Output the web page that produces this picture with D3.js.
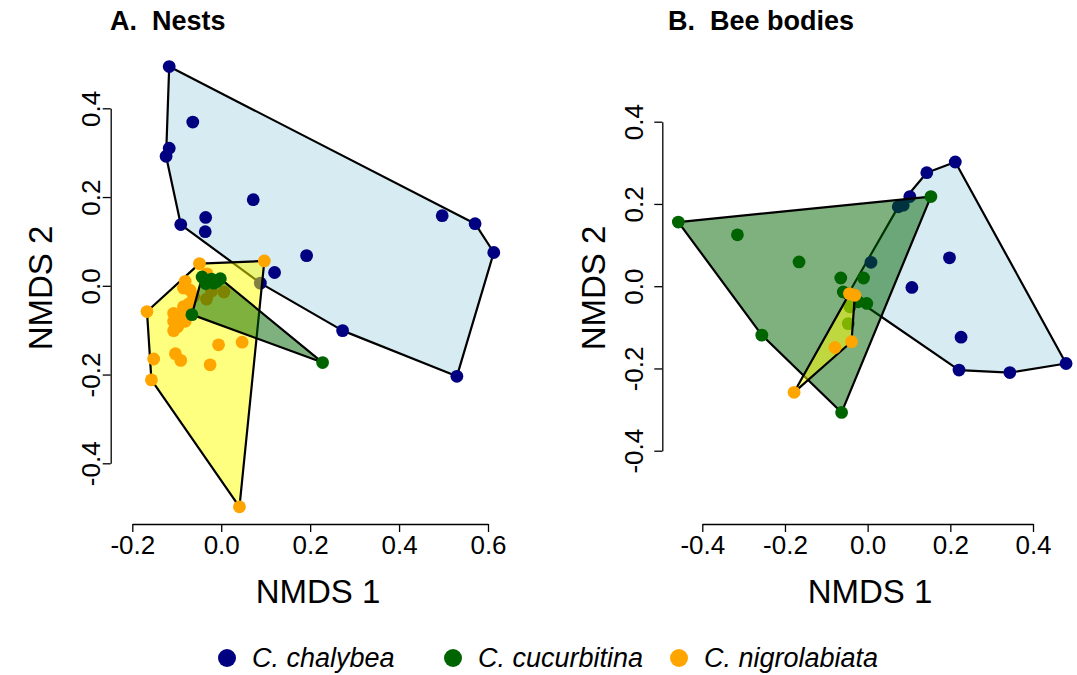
<!DOCTYPE html>
<html>
<head>
  <meta charset="utf-8">
  <script src="https://d3js.org/d3.v7.min.js"></script>
  <style>
    body { margin: 0; background: #fff; }
    text { font-family: "Liberation Sans", Arial, Helvetica, sans-serif; fill: #000; }
    .axis path, .axis line { stroke: #000; stroke-width: 1.3; }
    .hull { stroke: #000; stroke-width: 2.2; stroke-linejoin: round; }
  </style>
</head>
<body>
  <svg id="canvas" width="1077" height="675"></svg>
<script>
  // species and colours
  const species = ["C. chalybea", "C. cucurbitina", "C. nigrolabiata"];
  const pointColors = ["#000080", "#006400", "#FFA500"];
  const hullColors = ["rgba(173,216,230,0.5)", "rgba(0,100,0,0.5)", "rgba(255,255,0,0.5)"];

  const ticksA_x = [-0.2, 0.0, 0.2, 0.4, 0.6];
  const ticksA_y = [-0.4, -0.2, 0.0, 0.2, 0.4];
  const ticksB_x = [-0.4, -0.2, 0.0, 0.2, 0.4];
  const ticksB_y = [-0.4, -0.2, 0.0, 0.2, 0.4];

  // A. Nests  (NMDS1, NMDS2)
  const nestsChalybea = [
    [-0.117, 0.494], [-0.064, 0.369], [-0.117, 0.310], [-0.124, 0.292],
    [-0.091, 0.138], [-0.035, 0.154], [-0.036, 0.122], [0.072, 0.194],
    [0.192, 0.068], [0.120, 0.030], [0.088, 0.006], [0.273, -0.101],
    [0.497, 0.158], [0.571, 0.140], [0.613, 0.075], [0.530, -0.204]
  ];
  const nestsCucurbitina = [
    [0.228, -0.173], [-0.066, -0.065], [-0.043, 0.020], [-0.029, 0.012],
    [-0.017, 0.006], [-0.002, 0.016], [-0.035, 0.005], [-0.022, 0.015],
    [-0.010, 0.010]
  ];
  const nestsNigrolabiata = [
    [0.097, 0.056], [-0.049, 0.050], [-0.167, -0.058], [-0.157, -0.212],
    [-0.152, -0.165], [-0.081, 0.010], [-0.085, -0.005], [-0.070, -0.010],
    [-0.062, -0.024], [-0.085, -0.047], [-0.072, -0.040], [-0.107, -0.062],
    [-0.107, -0.080], [-0.092, -0.070], [-0.081, -0.080], [-0.107, -0.101],
    [-0.098, -0.092], [-0.006, -0.133], [0.047, -0.127], [-0.103, -0.153],
    [-0.091, -0.168], [-0.025, -0.178], [0.041, -0.498], [-0.032, 0.027],
    [-0.033, -0.030], [0.006, -0.014], [-0.022, -0.012]
  ];

  // B. Bee bodies
  const bodiesChalybea = [
    [0.212, 0.302], [0.143, 0.276], [0.102, 0.218], [0.074, 0.193],
    [0.086, 0.197], [0.008, 0.058], [0.198, 0.069], [0.107, -0.003],
    [0.226, -0.124], [0.221, -0.204], [0.344, -0.210], [0.480, -0.188],
    [-0.047, -0.019]
  ];
  const bodiesCucurbitina = [
    [-0.458, 0.156], [-0.315, 0.125], [-0.166, 0.059], [-0.256, -0.119],
    [-0.063, -0.307], [0.153, 0.218], [-0.065, 0.020], [-0.010, 0.020],
    [-0.059, -0.014], [-0.002, -0.042], [-0.023, -0.038], [-0.043, -0.050],
    [-0.047, -0.091]
  ];
  const bodiesNigrolabiata = [
    [-0.178, -0.258], [-0.079, -0.149], [-0.039, -0.135],
    [-0.044, -0.018], [-0.031, -0.022]
  ];

  const svg = d3.select("#canvas");

  const panels = [
    {
      title: "A.  Nests", titleX: 110,
      x: d3.scaleLinear().domain([-0.2, 0.6]).range([132.3, 488]),
      y: d3.scaleLinear().domain([-0.4, 0.4]).range([463.3, 108.3]),
      xTicks: ticksA_x, yTicks: ticksA_y,
      axisX: 110.7, axisY: 524, labelGap: 10.5,
      ytitleX: 52, xtitleX: 318,
      groups: [[0, nestsChalybea], [2, nestsNigrolabiata], [1, nestsCucurbitina]]
    },
    {
      title: "B.  Bee bodies", titleX: 668,
      x: d3.scaleLinear().domain([-0.4, 0.4]).range([702.3, 1033]),
      y: d3.scaleLinear().domain([-0.4, 0.4]).range([450.7, 121.7]),
      xTicks: ticksB_x, yTicks: ticksB_y,
      axisX: 662.3, axisY: 524, labelGap: 19,
      ytitleX: 605, xtitleX: 870,
      groups: [[0, bodiesChalybea], [1, bodiesCucurbitina], [2, bodiesNigrolabiata]]
    }
  ];

  panels.forEach(p => {
    const g = svg.append("g");

    // hulls and points, one group at a time
    p.groups.forEach(([k, data]) => {
      const pts = data.map(d => [p.x(d[0]), p.y(d[1])]);
      const hull = d3.polygonHull(pts);
      g.append("path")
        .attr("class", "hull")
        .attr("d", "M" + hull.join("L") + "Z")
        .attr("fill", hullColors[k]);
      g.selectAll(null).data(pts).join("circle")
        .attr("cx", d => d[0])
        .attr("cy", d => d[1])
        .attr("r", 6.4)
        .attr("fill", pointColors[k]);
    });

    // x axis
    const ax = g.append("g")
      .attr("class", "axis")
      .attr("transform", `translate(0,${p.axisY})`)
      .call(d3.axisBottom(p.x).tickValues(p.xTicks).tickSize(8).tickSizeOuter(0)
        .tickFormat(d => d.toFixed(1)));
    ax.selectAll("text").attr("y", 30).attr("dy", 0)
      .style("font-size", "26px");

    // y axis
    const ay = g.append("g")
      .attr("class", "axis")
      .attr("transform", `translate(${p.axisX},0)`)
      .call(d3.axisLeft(p.y).tickValues(p.yTicks).tickSize(8).tickSizeOuter(0)
        .tickFormat(d => d.toFixed(1)));
    ay.selectAll("text")
      .attr("x", 0).attr("y", 0).attr("dy", 0)
      .attr("text-anchor", "middle")
      .attr("transform", `translate(${-p.labelGap},0) rotate(-90)`)
      .style("font-size", "26px");
    g.selectAll(".axis").attr("font-family", null).attr("font-size", null);

    // titles
    g.append("text")
      .attr("x", p.titleX).attr("y", 30)
      .style("font-size", "27px").style("font-weight", "bold")
      .style("white-space", "pre")
      .text(p.title);
    g.append("text")
      .attr("x", p.xtitleX).attr("y", 603)
      .attr("text-anchor", "middle")
      .style("font-size", "33px")
      .text("NMDS 1");
    g.append("text")
      .attr("transform", `translate(${p.ytitleX},288) rotate(-90)`)
      .attr("text-anchor", "middle")
      .style("font-size", "33px")
      .text("NMDS 2");
  });

  // legend
  const legendX = [227, 453, 679];
  const legend = svg.append("g");
  species.forEach((s, i) => {
    legend.append("circle")
      .attr("cx", legendX[i]).attr("cy", 658).attr("r", 9)
      .attr("fill", pointColors[i]);
    legend.append("text")
      .attr("x", legendX[i] + 25).attr("y", 667)
      .style("font-size", "27px").style("font-style", "italic")
      .text(s);
  });
</script>
</body>
</html>
